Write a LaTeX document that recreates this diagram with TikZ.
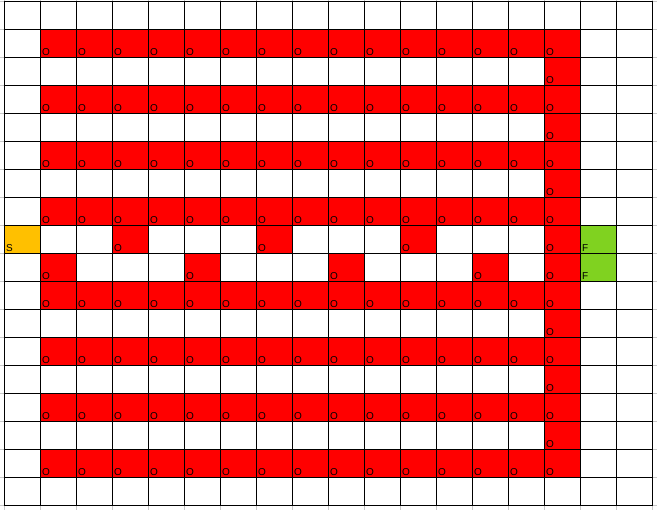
\documentclass[tikz,border=0pt]{standalone}
\usepackage{fontspec}
\setmainfont{Liberation Sans}
\definecolor{cellred}{RGB}{255,0,0}
\definecolor{cellorange}{RGB}{255,192,0}
\definecolor{cellgreen}{RGB}{128,210,32}
\definecolor{tickgray}{RGB}{200,200,200}
\begin{document}
\begin{tikzpicture}[x=1pt,y=-1pt,
  lbl/.style={anchor=base west, inner sep=0pt, font=\fontsize{10}{10}\selectfont},
  gridline/.style={black, line width=1pt},
  outline/.style={tickgray, line width=1pt}]
\useasboundingbox (0,0) rectangle (657,510);
\fill[white] (0,0) rectangle (657,510);
% full rows of red
\foreach \r in {1,3,5,7,10,12,14,16}{
  \foreach \c in {1,...,15}{
    \fill[cellred] ({4+36*\c},{2+28*\r}) rectangle ++(36,28);
    \node[lbl] (o-\c-\r) at ({4+36*\c+2},{2+28*\r+26}) {O};
  }
}
% right column connectors
\foreach \r in {2,4,6,8,9,11,13,15}{
  \fill[cellred] ({4+36*15},{2+28*\r}) rectangle ++(36,28);
  \node[lbl] (o-15-\r) at ({4+36*15+2},{2+28*\r+26}) {O};
}
% row 8 cells
\foreach \c in {3,7,11}{
  \fill[cellred] ({4+36*\c},{2+28*8}) rectangle ++(36,28);
  \node[lbl] (o-\c-8) at ({4+36*\c+2},{2+28*8+26}) {O};
}
% row 9 cells
\foreach \c in {1,5,9,13}{
  \fill[cellred] ({4+36*\c},{2+28*9}) rectangle ++(36,28);
  \node[lbl] (o-\c-9) at ({4+36*\c+2},{2+28*9+26}) {O};
}
% start and finish
\fill[cellorange] (4,226) rectangle ++(36,28);
\node[lbl] (start) at (6,252) {S};
\fill[cellgreen] (580,226) rectangle ++(36,28);
\node[lbl] (fin1) at (582,252) {F};
\fill[cellgreen] (580,254) rectangle ++(36,28);
\node[lbl] (fin2) at (582,280) {F};
% light outer ticks
\foreach \j in {0,...,18}{
  \draw[outline] (0,{2+28*\j}) -- (657,{2+28*\j});
}
\foreach \i in {0,...,18}{
  \draw[outline] ({4+36*\i},0) -- ({4+36*\i},510);
}
% grid
\foreach \j in {0,...,18}{
  \draw[gridline] (3.5,{2+28*\j}) -- (652.5,{2+28*\j});
}
\foreach \i in {0,...,18}{
  \draw[gridline] ({4+36*\i},1.5) -- ({4+36*\i},506.5);
}
\end{tikzpicture}
\end{document}
